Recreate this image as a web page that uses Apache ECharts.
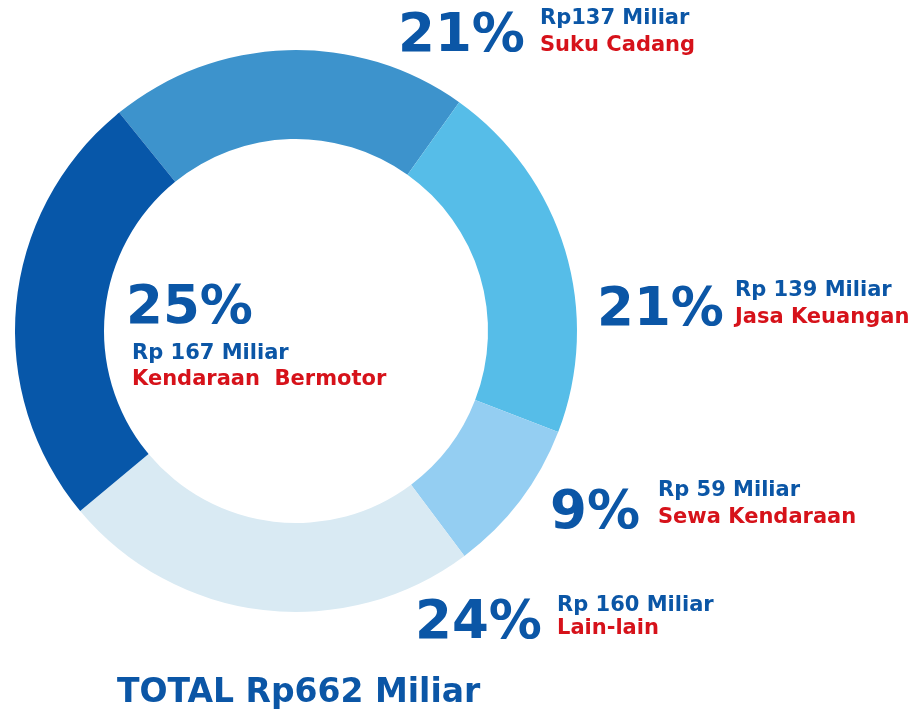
<!DOCTYPE html>
<html>
<head>
<meta charset="utf-8">
<script src="https://cdn.jsdelivr.net/npm/echarts@6/dist/echarts.min.js"></script>
<style>
html,body{margin:0;padding:0;background:#ffffff;}
#chart{width:917px;height:718px;}
</style>
</head>
<body>
<div id="chart"></div>
<script>
// Data (Rp Miliar)
const categories = ['Suku Cadang', 'Jasa Keuangan', 'Sewa Kendaraan', 'Lain-lain', 'Kendaraan  Bermotor'];
const values = [137, 139, 59, 160, 167];
const percentLabels = ['21%', '21%', '9%', '24%', '25%'];
const valueLabels = ['Rp137 Miliar', 'Rp 139 Miliar', 'Rp 59 Miliar', 'Rp 160 Miliar', 'Rp 167 Miliar'];
const totalLabel = 'TOTAL Rp662 Miliar';

const colors = ['#3d93cc', '#56bde8', '#94cef2', '#d9eaf3', '#0757a9'];
// label anchor positions: [pctX, pctY, textX, valueY, nameY]
const labelPos = [
  [398, 37, 540, 19, 46],
  [597, 311, 735, 291, 318],
  [550, 514, 658, 491, 518],
  [415, 624, 557, 606, 629],
  [126, 309, 132, 354, 380]
];

const FONT = '"DejaVu Sans", Verdana, sans-serif';
const BLUE = '#0b56a6';
const RED = '#d6121a';

const graphics = [];
categories.forEach((c, i) => {
  const p = labelPos[i];
  graphics.push({type:'text', x:p[0], y:p[1], style:{text:percentLabels[i], fill:BLUE, font:'bold 53px ' + FONT, textVerticalAlign:'middle'}});
  graphics.push({type:'text', x:p[2], y:p[3], style:{text:valueLabels[i], fill:BLUE, font:'bold 21px ' + FONT, textVerticalAlign:'middle'}});
  graphics.push({type:'text', x:p[2], y:p[4], style:{text:c, fill:RED, font:'bold 21px ' + FONT, textVerticalAlign:'middle'}});
});
graphics.push({type:'text', x:117, y:693, style:{text:totalLabel, fill:BLUE, font:'bold 33px ' + FONT, textVerticalAlign:'middle'}});

const chart = echarts.init(document.getElementById('chart'), null, {renderer:'canvas'});
chart.setOption({
  backgroundColor:'#ffffff',
  animation:false,
  series:[{
    type:'pie',
    center:[296, 331],
    radius:[192, 281],
    startAngle:129,
    clockwise:true,
    silent:true,
    label:{show:false},
    labelLine:{show:false},
    itemStyle:{borderWidth:0},
    data: categories.map((c, i) => ({name:c, value:values[i], itemStyle:{color:colors[i]}}))
  }],
  graphic: graphics
});
</script>
</body>
</html>
